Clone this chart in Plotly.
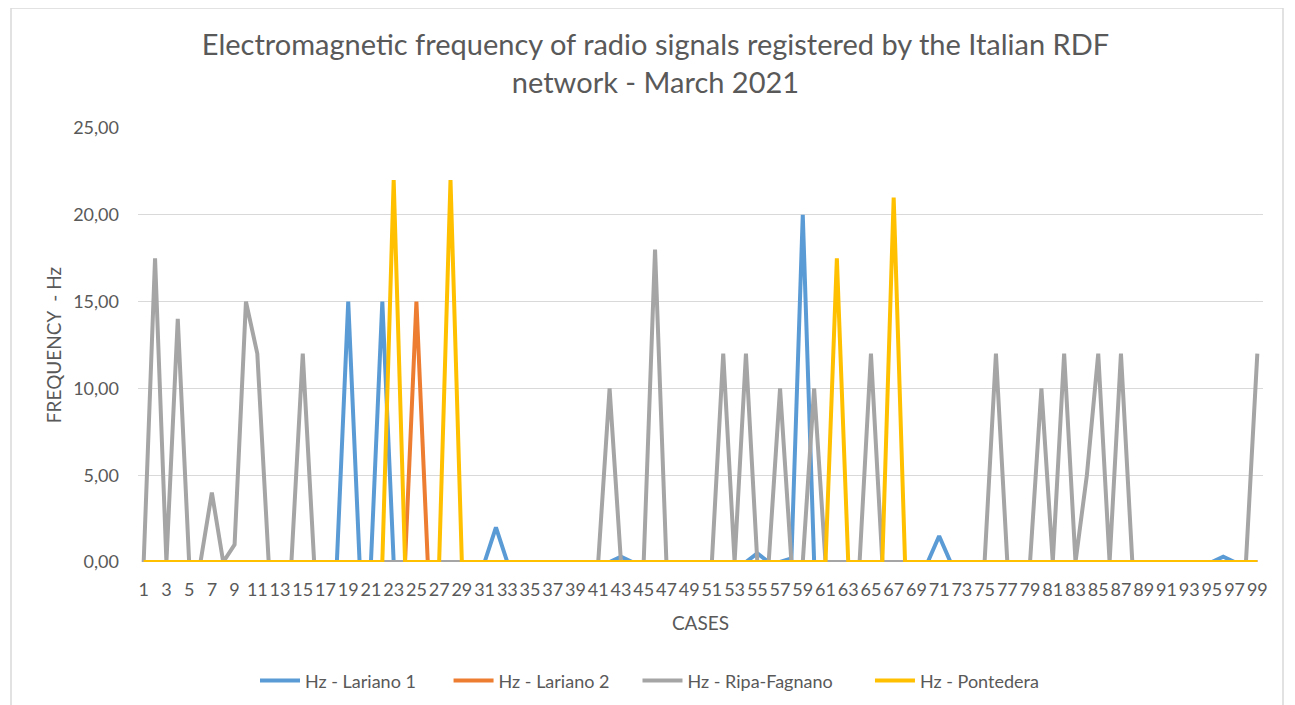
import plotly.graph_objects as go

cases = list(range(1, 100))

def series(peaks):
    vals = [0.0] * 99
    for c, v in peaks.items():
        vals[c - 1] = v
    return vals

lariano1_peaks = {19: 15, 22: 15, 32: 2, 43: 0.3, 55: 0.5, 58: 0.2, 59: 20, 71: 1.5, 96: 0.3}
lariano2_peaks = {25: 15}
ripa_peaks = {2: 17.5, 4: 14, 7: 4, 9: 1, 10: 15, 11: 12, 15: 12, 42: 10, 46: 18,
              52: 12, 54: 12, 57: 10, 60: 10, 65: 12, 76: 12, 80: 10, 82: 12,
              84: 5, 85: 12, 87: 12, 99: 12}
pontedera_peaks = {23: 22, 28: 22, 62: 17.5, 67: 21}

lariano1 = series(lariano1_peaks)
lariano2 = series(lariano2_peaks)
ripa = series(ripa_peaks)
pontedera = series(pontedera_peaks)

names = ["Hz - Lariano 1", "Hz - Lariano 2", "Hz - Ripa-Fagnano", "Hz - Pontedera"]
colors = ["#5B9BD5", "#ED7D31", "#A5A5A5", "#FFC000"]
data = [lariano1, lariano2, ripa, pontedera]

y_ticks = [0, 5, 10, 15, 20, 25]
y_ticktext = ["0,00", "5,00", "10,00", "15,00", "20,00", "25,00"]
x_ticks = list(range(1, 100, 2))

FONT = "Lato, Open Sans, sans-serif"
TXT = "#595959"
pads = [6, 5, 7, 0]
fig = go.Figure()
for n, c, d, p in zip(names, colors, data, pads):
    fig.add_trace(go.Scatter(x=cases, y=d, mode="lines", name=n + "\u00a0" * p,
                             line=dict(color=c, width=4)))

fig.update_layout(
    width=1295, height=705,
    paper_bgcolor="white", plot_bgcolor="white",
    margin=dict(l=130, r=40, t=120, b=151, autoexpand=False),
    title=dict(text="Electromagnetic frequency of radio signals registered by the Italian RDF<br>network - March 2021",
               x=0.5, xanchor="center", y=0.933, yanchor="middle",
               font=dict(family=FONT, size=29, color=TXT)),
    font=dict(family=FONT, color=TXT),
    showlegend=True,
    legend=dict(orientation="h", x=(255 - 138) / 1125, xanchor="left", y=-0.274, yanchor="middle",
                font=dict(size=18, color=TXT), traceorder="normal",
                itemwidth=40),
    xaxis=dict(range=[0.5, 99.5], tickmode="array", tickvals=x_ticks,
               ticktext=[str(v) for v in x_ticks], tickangle=0,
               tickfont=dict(size=18, color=TXT), showgrid=False,
               zeroline=False, showline=False, ticks="", ticklabelstandoff=15,
               title=dict(text="CASES", font=dict(size=19, color=TXT), standoff=17)),
    yaxis=dict(range=[0, 25], tickmode="array", tickvals=y_ticks, ticktext=y_ticktext,
               tickfont=dict(size=18, color=TXT), showgrid=True,
               gridcolor="#D9D9D9", gridwidth=1, zeroline=False, showline=False,
               ticks="", ticklabelstandoff=18,
               title=dict(text="FREQUENCY&nbsp; - Hz", font=dict(size=19, color=TXT), standoff=6)),
)

fig.add_shape(type="rect", xref="paper", yref="paper",
              x0=(11 - 138) / 1125, x1=(1283 - 138) / 1125,
              y0=(562 - 720) / 434, y1=(562 - 8) / 434,
              line=dict(color="#D9D9D9", width=1.5), fillcolor="rgba(0,0,0,0)", layer="below")

fig.write_html("out.html")
